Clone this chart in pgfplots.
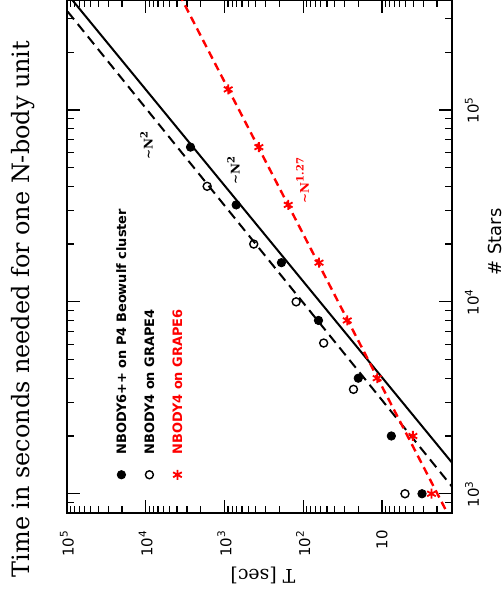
\documentclass[border=0pt]{standalone}
\usepackage{fontspec}
\usepackage{pgfplots}
\pgfplotsset{compat=1.18}
\setmainfont{DejaVu Sans}
\newfontfamily\seriffont{DejaVu Serif}
\newfontfamily\legfont{DejaVu Sans}
\begin{document}
\begin{tikzpicture}
\useasboundingbox (-33.5bp,-43.5bp) rectangle (218.5bp,256.5bp);
\begin{axis}[
  at={(0,0)}, anchor=south west,
  scale only axis, width=192.5bp, height=256.5bp,
  xmode=log, ymode=log, x dir=reverse,
  xmin=1.29, xmax=1e5, ymin=794, ymax=3.74e5,
  xtick={10,100,1000,10000,100000},
  xticklabels={10,10\textsuperscript{2},10\textsuperscript{3},10\textsuperscript{4},10\textsuperscript{5}},
  minor xtick={2,3,4,5,6,7,8,9,20,30,40,50,60,70,80,90,200,300,400,500,600,700,800,900,2000,3000,4000,5000,6000,7000,8000,9000,20000,30000,40000,50000,60000,70000,80000,90000},
  ytick={1000,10000,100000},
  yticklabels={10\textsuperscript{3},10\textsuperscript{4},10\textsuperscript{5}},
  minor ytick={800,900,2000,3000,4000,5000,6000,7000,8000,9000,20000,30000,40000,50000,60000,70000,80000,90000,200000,300000},
  yticklabel pos=right,
  xticklabel style={rotate=90, anchor=east, font=\fontsize{7.5}{9}\selectfont},
  yticklabel style={rotate=90, anchor=north, font=\fontsize{7.5}{9}\selectfont},
  xticklabel shift=5bp, yticklabel shift=3bp,
  tick align=inside, major tick length=6.5bp, minor tick length=3.5bp,
  axis line style={line width=0.8bp},
  tick style={black, line width=0.6bp},
]
\addplot[only marks, mark=*, mark size=2.1bp, black] coordinates {
  (3.1,1000) (7.6,2000) (20,4000) (64,8000) (189,16000) (710,32000) (2700,64000)};
\addplot[only marks, mark=o, mark size=2bp, black, line width=0.7bp] coordinates {
  (5.1,1000) (23,3500) (55,6100) (123,10000) (425,20000) (1660,40000)};
\addplot[only marks, mark=asterisk, mark size=2.5bp, red, line width=0.9bp] coordinates {
  (2.35,1000) (4.05,2000) (11.5,4000) (27.6,8000) (63,16000) (155,32000) (366,64000) (897,128000)};
\addplot[black, line width=1bp] coordinates {(0.5,904) (2e5,5.71e5)};
\addplot[black, line width=1bp, dash pattern=on 5bp off 3bp] coordinates {(0.63,757) (2e5,4.67e5)};
\addplot[red, line width=1.2bp, dash pattern=on 4bp off 2.5bp] coordinates {(1.107,631) (6650,6.31e5)};
% legend (rotated, as in the reference)
\addplot[only marks, mark=*, mark size=2.1bp, black] coordinates {(20370,1256)};
\addplot[only marks, mark=o, mark size=2bp, black, line width=0.7bp] coordinates {(8980,1256)};
\addplot[only marks, mark=asterisk, mark size=2.5bp, red, line width=0.9bp] coordinates {(3955,1256)};
\node[rotate=90, anchor=west, inner sep=0pt, font=\legfont\bfseries\fontsize{6.5}{7}\selectfont] at (axis cs:20370,1597) {NBODY6++ on P4 Beowulf cluster};
\node[rotate=90, anchor=west, inner sep=0pt, font=\legfont\bfseries\fontsize{6.5}{7}\selectfont] at (axis cs:8980,1597) {NBODY4 on GRAPE4};
\node[rotate=90, anchor=west, inner sep=0pt, red, font=\legfont\bfseries\fontsize{6.5}{7}\selectfont] at (axis cs:3955,1597) {NBODY4 on GRAPE6};
% fit labels
\node[rotate=90, font=\seriffont\bfseries\fontsize{6}{7}\selectfont] at (axis cs:9800,65800) {∼N\textsuperscript{2}};
\node[rotate=90, font=\seriffont\bfseries\fontsize{6}{7}\selectfont] at (axis cs:769,48700) {∼N\textsuperscript{2}};
\node[rotate=90, red, font=\seriffont\bfseries\fontsize{6}{7}\selectfont] at (axis cs:102,43100) {∼N\textsuperscript{1.27}};
\end{axis}
\node[rotate=90, font=\seriffont\fontsize{12}{14}\selectfont] at (-22bp,102bp) {Time in seconds needed for one N-body unit};
\node[rotate=90, font=\fontsize{9}{10}\selectfont] at (214bp,135.5bp) {\# Stars};
\node[rotate=180, font=\seriffont\fontsize{9.5}{11}\selectfont] at (98bp,-31bp) {T [sec]};
\end{tikzpicture}
\end{document}
